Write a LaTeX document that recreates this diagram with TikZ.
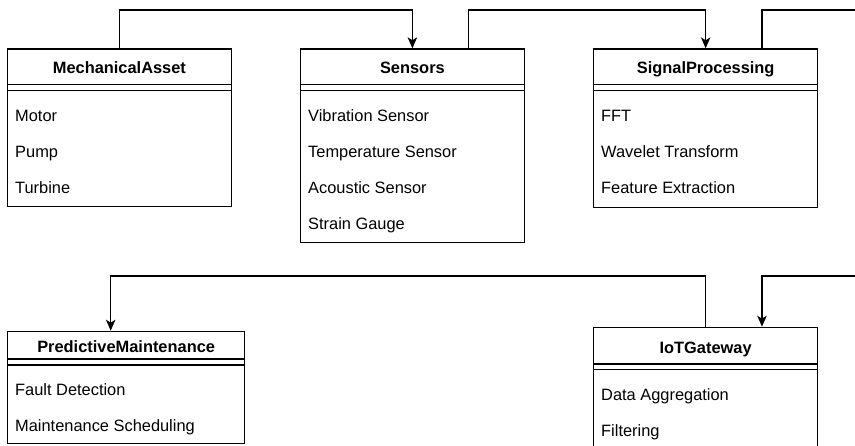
\documentclass[tikz,border=0pt]{standalone}
\usepackage{fontspec}
\setmainfont{Liberation Sans}
\usetikzlibrary{arrows.meta,calc}
\begin{document}
\begin{tikzpicture}[x=1pt,y=-1pt,
  cls/.style={draw=black, line width=1.3pt, fill=white, rectangle, inner sep=0pt,
    anchor=north west, minimum width=223.5pt},
  title/.style={font=\fontsize{16.4}{19}\selectfont\bfseries, anchor=base, inner sep=0pt},
  item/.style={font=\fontsize{16.4}{19}\selectfont, anchor=base west, inner sep=0pt},
  sep/.style={draw=black, line width=1.3pt},
  plain/.style={draw=black, line width=1.3pt},
  link/.style={plain, -{Stealth[length=11pt,width=9.5pt,inset=3pt]}}]
\useasboundingbox (0,0) rectangle (855,446);
\begin{scope}
\clip (0,0) rectangle (855,446);

% class boxes
\node[cls, minimum height=157.4pt] (mech) at (7,48.3) {};
\node[cls, minimum height=193.7pt] (sens) at (300,48.3) {};
\node[cls, minimum height=158.7pt, minimum width=224pt] (sig) at (593,48.3) {};
\node[cls, minimum height=112.3pt, minimum width=237pt] (pm) at (7,330.7) {};
\node[cls, minimum height=140pt, minimum width=224pt] (iot) at (593,326.7) {};

% header separators (double line)
\foreach \b/\a/\c in {mech/36/42.2, sens/36/42.2, sig/36/42.2, pm/28.3/34.3, iot/37.3/43} {
  \draw[sep] ([yshift=-\a pt]\b.north west) -- ([yshift=-\a pt]\b.north east);
  \draw[sep] ([yshift=-\c pt]\b.north west) -- ([yshift=-\c pt]\b.north east);
}

% titles
\node[title] (mech-t) at ([yshift=-25.7pt]mech.north) {MechanicalAsset};
\node[title] (sens-t) at ([yshift=-25.7pt]sens.north) {Sensors};
\node[title] (sig-t) at ([yshift=-25.7pt]sig.north) {SignalProcessing};
\node[title] (pm-t) at ([yshift=-21.6pt]pm.north) {PredictiveMaintenance};
\node[title] (iot-t) at ([yshift=-27pt]iot.north) {IoTGateway};

% attributes
\foreach \t [count=\i] in {Motor,Pump,Turbine}
  \node[item] (mech-\i) at ([xshift=8pt,yshift={-(73.4+36*(\i-1))*1pt}]mech.north west) {\t};
\foreach \t [count=\i] in {Vibration Sensor,Temperature Sensor,Acoustic Sensor,Strain Gauge}
  \node[item] (sens-\i) at ([xshift=8pt,yshift={-(73.4+36*(\i-1))*1pt}]sens.north west) {\t};
\foreach \t [count=\i] in {FFT,Wavelet Transform,Feature Extraction}
  \node[item] (sig-\i) at ([xshift=8pt,yshift={-(73.4+36*(\i-1))*1pt}]sig.north west) {\t};
\foreach \t [count=\i] in {Fault Detection,Maintenance Scheduling}
  \node[item] (pm-\i) at ([xshift=8pt,yshift={-(64.6+36*(\i-1))*1pt}]pm.north west) {\t};
\foreach \t [count=\i] in {Data Aggregation,Filtering}
  \node[item] (iot-\i) at ([xshift=8pt,yshift={-(74.3+36*(\i-1))*1pt}]iot.north west) {\t};

% routing points
\coordinate (toprow) at (0,10);
\coordinate (midrow) at (0,276);
\coordinate (offtop) at (870,10);
\coordinate (offmid) at (870,276);
\coordinate (sens-out) at ($(sens.north west)!0.75!(sens.north east)$);
\coordinate (sig-out) at ($(sig.north west)!0.75!(sig.north east)$);
\coordinate (iot-in) at ($(iot.north west)!0.75!(iot.north east)$);
\coordinate (pm-in) at ($(pm.north west)+(103.7,0)$);

% connectors
\draw[link] (mech.north) -- (mech.north |- toprow) -| (sens.north);
\draw[link] (sens-out) -- (sens-out |- toprow) -| (sig.north);
\draw[plain] (sig-out) |- (offtop);
\draw[link] (offmid) -| (iot-in);
\draw[link] (iot.north) -- (iot.north |- midrow) -| (pm-in);
\end{scope}
\end{tikzpicture}
\end{document}
